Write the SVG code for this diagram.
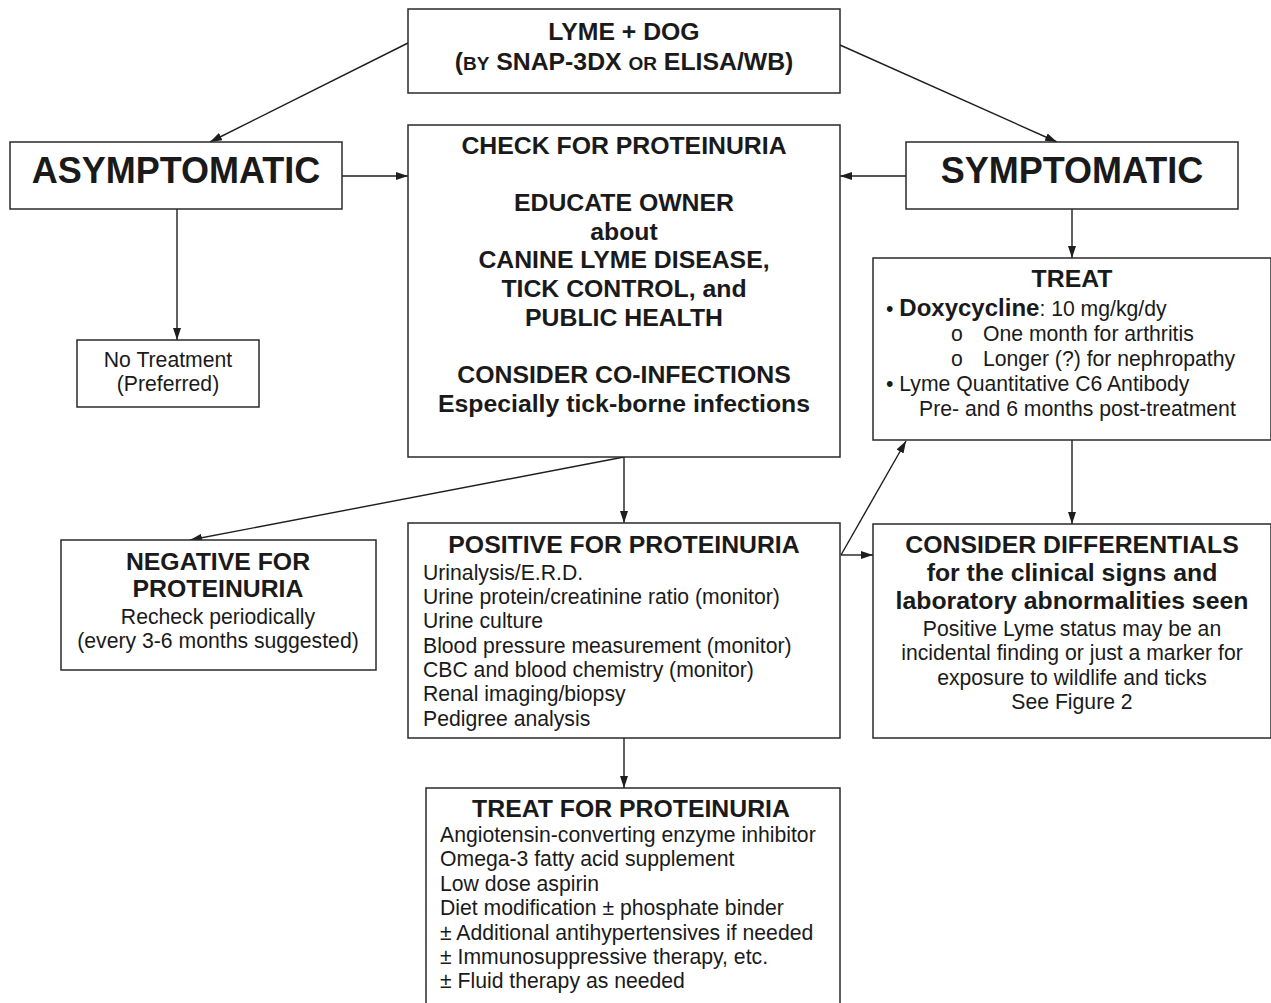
<svg xmlns="http://www.w3.org/2000/svg" width="1271" height="1003" viewBox="0 0 1271 1003">
<defs>
<marker id="ah" viewBox="0 0 12 8" refX="12" refY="4" markerWidth="12" markerHeight="8" markerUnits="userSpaceOnUse" orient="auto">
<path d="M0,0 L12,4 L0,8 Z" fill="#1e1e1e"/>
</marker>
<style>
.box{fill:#fff;stroke:#2a2a2a;stroke-width:1.5}
.c{stroke:#1e1e1e;stroke-width:1.4;fill:none;marker-end:url(#ah)}
text{font-family:"Liberation Sans",Arial,sans-serif;fill:#1a1a1a}
.bc{font-weight:bold;font-size:24.8px;text-anchor:middle}
.big{font-weight:bold;font-size:36px;text-anchor:middle}
.r{font-size:21.2px}
.rc{font-size:21.2px;text-anchor:middle}
</style>
</defs>
<rect width="1271" height="1003" fill="#fff"/>

<g id="connectors">
<line class="c" x1="408" y1="43" x2="210" y2="142"/>
<line class="c" x1="840" y1="45" x2="1057" y2="142"/>
<line class="c" x1="342" y1="176" x2="408" y2="176"/>
<line class="c" x1="906" y1="176" x2="840" y2="176"/>
<line class="c" x1="177" y1="209" x2="177" y2="340"/>
<line class="c" x1="1072" y1="209" x2="1072" y2="258"/>
<line class="c" x1="624" y1="457" x2="624" y2="523"/>
<line class="c" x1="624" y1="457" x2="190" y2="540"/>
<line class="c" x1="1072" y1="440" x2="1072" y2="524"/>
<line class="c" x1="841" y1="555" x2="873" y2="555"/>
<line class="c" x1="841" y1="555" x2="906" y2="441"/>
<line class="c" x1="624" y1="738" x2="624" y2="788"/>
</g>

<g id="lyme-dog">
<rect class="box" x="408" y="9" width="432" height="84"/>
<text class="bc" x="624" y="40">LYME + DOG</text>
<text class="bc" x="624" y="70">(<tspan font-size="19">BY</tspan> SNAP-3DX <tspan font-size="19">OR</tspan> ELISA/WB)</text>
</g>

<g id="asymptomatic">
<rect class="box" x="10" y="142" width="332" height="67"/>
<text class="big" x="176" y="183">ASYMPTOMATIC</text>
</g>

<g id="symptomatic">
<rect class="box" x="906" y="142" width="332" height="67"/>
<text class="big" x="1072" y="183">SYMPTOMATIC</text>
</g>

<g id="check-proteinuria">
<rect class="box" x="408" y="125" width="432" height="332"/>
<text class="bc" x="624" y="154">CHECK FOR PROTEINURIA</text>
<text class="bc" x="624" y="211">EDUCATE OWNER</text>
<text class="bc" x="624" y="240">about</text>
<text class="bc" x="624" y="268">CANINE LYME DISEASE,</text>
<text class="bc" x="624" y="297">TICK CONTROL, and</text>
<text class="bc" x="624" y="326">PUBLIC HEALTH</text>
<text class="bc" x="624" y="383">CONSIDER CO-INFECTIONS</text>
<text class="bc" x="624" y="412">Especially tick-borne infections</text>
</g>

<g id="no-treatment">
<rect class="box" x="77" y="340" width="182" height="67"/>
<text class="rc" x="168" y="367">No Treatment</text>
<text class="rc" x="168" y="391">(Preferred)</text>
</g>

<g id="treat">
<rect class="box" x="873" y="258" width="398" height="182"/>
<text class="bc" x="1072" y="287">TREAT</text>
<text class="r" x="886" y="316">• <tspan font-weight="bold" font-size="24">Doxycycline</tspan>: 10 mg/kg/dy</text>
<text class="r" x="951" y="341" font-size="18">o</text>
<text class="r" x="983" y="341">One month for arthritis</text>
<text class="r" x="951" y="366" font-size="18">o</text>
<text class="r" x="983" y="366">Longer (?) for nephropathy</text>
<text class="r" x="886" y="391">• Lyme Quantitative C6 Antibody</text>
<text class="r" x="919" y="416">Pre- and 6 months post-treatment</text>
</g>

<g id="negative">
<rect class="box" x="61" y="540" width="315" height="130"/>
<text class="bc" x="218" y="570">NEGATIVE FOR</text>
<text class="bc" x="218" y="597">PROTEINURIA</text>
<text class="rc" x="218" y="624">Recheck periodically</text>
<text class="rc" x="218" y="648">(every 3-6 months suggested)</text>
</g>

<g id="positive">
<rect class="box" x="408" y="523" width="432" height="215"/>
<text class="bc" x="624" y="553">POSITIVE FOR PROTEINURIA</text>
<text class="r" x="423" y="580">Urinalysis/E.R.D.</text>
<text class="r" x="423" y="604">Urine protein/creatinine ratio (monitor)</text>
<text class="r" x="423" y="628">Urine culture</text>
<text class="r" x="423" y="653">Blood pressure measurement (monitor)</text>
<text class="r" x="423" y="677">CBC and blood chemistry (monitor)</text>
<text class="r" x="423" y="701">Renal imaging/biopsy</text>
<text class="r" x="423" y="726">Pedigree analysis</text>
</g>

<g id="differentials">
<rect class="box" x="873" y="524" width="398" height="214"/>
<text class="bc" x="1072" y="553">CONSIDER DIFFERENTIALS</text>
<text class="bc" x="1072" y="581">for the clinical signs and</text>
<text class="bc" x="1072" y="609">laboratory abnormalities seen</text>
<text class="rc" x="1072" y="636">Positive Lyme status may be an</text>
<text class="rc" x="1072" y="660">incidental finding or just a marker for</text>
<text class="rc" x="1072" y="685">exposure to wildlife and ticks</text>
<text class="rc" x="1072" y="709">See Figure 2</text>
</g>

<g id="treat-proteinuria">
<rect class="box" x="426" y="788" width="414" height="220"/>
<text class="bc" x="631" y="817">TREAT FOR PROTEINURIA</text>
<text class="r" x="440" y="842">Angiotensin-converting enzyme inhibitor</text>
<text class="r" x="440" y="866">Omega-3 fatty acid supplement</text>
<text class="r" x="440" y="891">Low dose aspirin</text>
<text class="r" x="440" y="915">Diet modification ± phosphate binder</text>
<text class="r" x="440" y="940">± Additional antihypertensives if needed</text>
<text class="r" x="440" y="964">± Immunosuppressive therapy, etc.</text>
<text class="r" x="440" y="988">± Fluid therapy as needed</text>
</g>
</svg>
